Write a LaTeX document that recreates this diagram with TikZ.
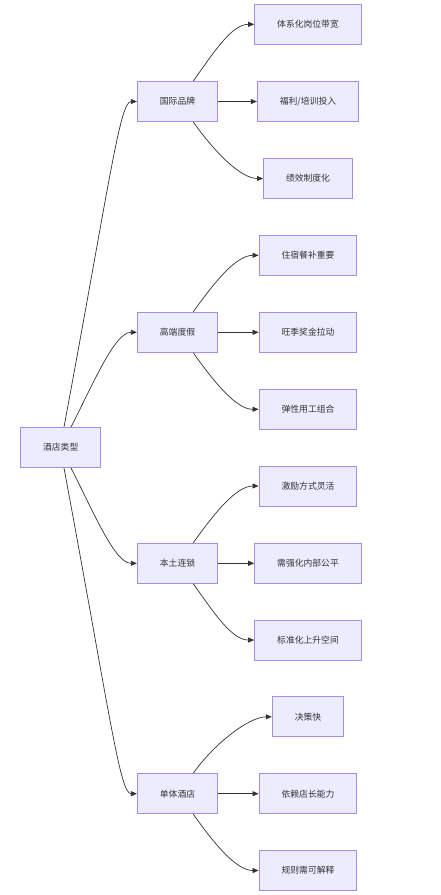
\documentclass[tikz,border=0pt]{standalone}
\usepackage{fontspec}
\newfontfamily\cjk{Noto Sans CJK SC}
\usetikzlibrary{arrows.meta}
\definecolor{boxfill}{HTML}{ECECFF}
\definecolor{boxline}{HTML}{A98BE2}
\definecolor{edgegray}{HTML}{333333}

\begin{document}
\begin{tikzpicture}[x=1pt, y=-1pt,
    box/.style={draw=boxline, line width=1pt, fill=boxfill, minimum height=40pt,
                inner xsep=22.5pt, text=edgegray, font=\cjk\fontsize{8.8}{10}\selectfont},
    flow/.style={-{Triangle[length=6pt, width=5pt]}, edgegray, line width=0.7pt},
]
\useasboundingbox (0,0) rectangle (441,895);

% root and the four hotel kinds
\node[box] (root)   at (60.7,447.5) {酒店类型};
\node[box] (intl)   at (177.5,101.5) {国际品牌};
\node[box] (resort) at (177.5,332.3) {高端度假};
\node[box] (chain)  at (177.5,563.3) {本土连锁};
\node[box] (indep)  at (177.5,793.7) {单体酒店};

% leaves
\node[box] (intlA)   at (308,24.3)  {体系化岗位带宽};
\node[box] (intlB)   at (308,101.5) {福利/培训投入};
\node[box] (intlC)   at (308,178.5) {绩效制度化};
\node[box] (resortA) at (308,255.3) {住宿餐补重要};
\node[box] (resortB) at (308,332.3) {旺季奖金拉动};
\node[box] (resortC) at (308,409.3) {弹性用工组合};
\node[box] (chainA)  at (308,486)   {激励方式灵活};
\node[box] (chainB)  at (308,563.3) {需强化内部公平};
\node[box] (chainC)  at (308,640)   {标准化上升空间};
\node[box] (indepA)  at (308,716.8) {决策快};
\node[box] (indepB)  at (308,793.7) {依赖店长能力};
\node[box] (indepC)  at (308,870.5) {规则需可解释};

% root to kinds
\draw[flow] ([xshift=3.3pt]root.north) .. controls +(46,-247) and +(-17,0) .. (intl.west);
\draw[flow] ([xshift=10.3pt]root.north) .. controls +(24,-47) and +(-22,0) .. (resort.west);
\draw[flow] ([xshift=10.3pt]root.south) .. controls +(24,47) and +(-22,0) .. (chain.west);
\draw[flow] ([xshift=3.3pt]root.south) .. controls +(46,247) and +(-17,0) .. (indep.west);

% kinds to leaves
\draw[flow] ([xshift=15.8pt]intl.north) .. controls +(22,-31) and +(-22,0) .. (intlA.west);
\draw[flow] (intl.east) -- (intlB.west);
\draw[flow] ([xshift=15.8pt]intl.south) .. controls +(22,31) and +(-22,0) .. (intlC.west);

\draw[flow] ([xshift=15.8pt]resort.north) .. controls +(22,-31) and +(-22,0) .. (resortA.west);
\draw[flow] (resort.east) -- (resortB.west);
\draw[flow] ([xshift=15.8pt]resort.south) .. controls +(22,31) and +(-22,0) .. (resortC.west);

\draw[flow] ([xshift=15.8pt]chain.north) .. controls +(22,-31) and +(-22,0) .. (chainA.west);
\draw[flow] (chain.east) -- (chainB.west);
\draw[flow] ([xshift=15.8pt]chain.south) .. controls +(22,31) and +(-22,0) .. (chainC.west);

\draw[flow] ([xshift=15.8pt]indep.north) .. controls +(22,-31) and +(-22,0) .. (indepA.west);
\draw[flow] (indep.east) -- (indepB.west);
\draw[flow] ([xshift=15.8pt]indep.south) .. controls +(22,31) and +(-22,0) .. (indepC.west);
\end{tikzpicture}
\end{document}
